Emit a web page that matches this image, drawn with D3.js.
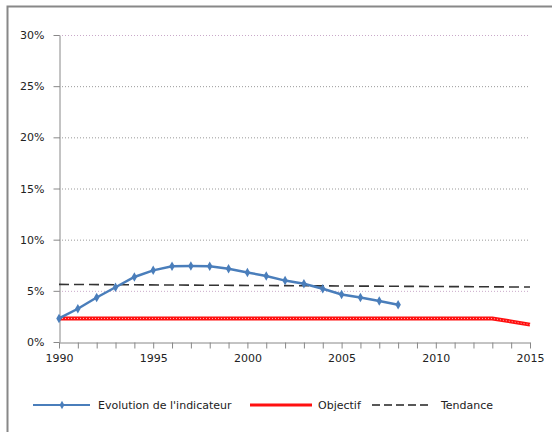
<!DOCTYPE html>
<html>
<head>
<meta charset="utf-8">
<script src="https://cdn.jsdelivr.net/npm/d3@7"></script>
<style>
  body { margin: 0; background: #fff; }
  text { font-family: "DejaVu Sans", sans-serif; fill: #222; }
</style>
</head>
<body>
<div id="graph"></div>
<script>
// indicator values (%)
const years = [1990, 1991, 1992, 1993, 1994, 1995, 1996, 1997, 1998, 1999,
  2000, 2001, 2002, 2003, 2004, 2005, 2006, 2007, 2008];
const indicateur = [2.3, 3.25, 4.35, 5.35, 6.35, 7.0, 7.4, 7.42, 7.4, 7.15,
  6.8, 6.45, 6.0, 5.7, 5.2, 4.65, 4.35, 4.0, 3.65];
const objectifYears = [1990, 2013, 2015];
const objectif = [2.3, 2.3, 1.7];
const tendanceYears = [1990, 2015];
const tendance = [5.63, 5.37];
const yTicks = [0, 5, 10, 15, 20, 25, 30];
const xTicks = [1990, 1995, 2000, 2005, 2010, 2015];
const legendLabels = ["Evolution de l'indicateur", "Objectif", "Tendance"];

const W = 552, H = 432;
const margin = { top: 35, right: 22, bottom: 90, left: 59 };
const width = W - margin.left - margin.right;
const height = H - margin.top - margin.bottom;

const svg = d3.select("#graph").append("svg")
  .attr("width", W)
  .attr("height", H);

// outer frame (left + top visible)
svg.append("path")
  .attr("d", "M7.5," + H + " V6.5 H" + W)
  .attr("fill", "none")
  .attr("stroke", "#888")
  .attr("stroke-width", 2);

const g = svg.append("g")
  .attr("transform", "translate(" + margin.left + "," + margin.top + ")");

const x = d3.scaleLinear().domain([1990, 2015]).range([0, width]);
const y = d3.scaleLinear().domain([0, 30]).range([height, 0]);

// gridlines
g.append("g")
  .selectAll("line")
  .data(yTicks.filter(d => d > 0))
  .enter().append("line")
  .attr("x1", 0)
  .attr("x2", width)
  .attr("y1", d => y(d) + 0.5)
  .attr("y2", d => y(d) + 0.5)
  .attr("stroke", d => (d === 30 || d === 5) ? "#c9a9c9" : "#999")
  .attr("stroke-width", 1)
  .attr("stroke-dasharray", "1,2");

// y axis
const yAxis = g.append("g")
  .attr("transform", "translate(0.5,0)")
  .call(d3.axisLeft(y).tickValues(yTicks).tickFormat(d => d + "%").tickSize(6).tickSizeOuter(0).tickPadding(9));
yAxis.selectAll("text").style("font-size", "11px").attr("fill", "#333");
yAxis.selectAll("line, path").attr("stroke", "#888");

// x axis with minor yearly ticks
const xAxis = g.append("g")
  .attr("transform", "translate(0," + (height + 0.5) + ")")
  .call(d3.axisBottom(x).tickValues(d3.range(1990, 2016)).tickFormat(d => xTicks.includes(d) ? d : "").tickSize(6).tickSizeOuter(0).tickPadding(6));
xAxis.selectAll("text").style("font-size", "11px").attr("fill", "#333");
xAxis.selectAll("line, path").attr("stroke", "#888");

// tendance
g.append("path")
  .datum(tendanceYears.map((d, i) => [d, tendance[i]]))
  .attr("fill", "none")
  .attr("stroke", "#333")
  .attr("stroke-width", 1.6)
  .attr("stroke-dasharray", "10,5")
  .attr("d", d3.line().x(d => x(d[0])).y(d => y(d[1])));

// objectif
const objLine = d3.line().x(d => x(d[0])).y(d => y(d[1]));
const objData = objectifYears.map((d, i) => [d, objectif[i]]);
g.append("path")
  .datum(objData)
  .attr("fill", "none")
  .attr("stroke", "#ff1010")
  .attr("stroke-width", 4)
  .attr("d", objLine);
g.append("path")
  .datum(objData)
  .attr("fill", "none")
  .attr("stroke", "#ffb0b0")
  .attr("stroke-width", 1)
  .attr("stroke-dasharray", "1,2")
  .attr("d", objLine);

// indicateur
const indData = years.map((d, i) => [d, indicateur[i]]);
g.append("path")
  .datum(indData)
  .attr("fill", "none")
  .attr("stroke", "#4a7ebb")
  .attr("stroke-width", 2.5)
  .attr("d", d3.line().x(d => x(d[0])).y(d => y(d[1])));

g.selectAll(".pt")
  .data(indData)
  .enter().append("path")
  .attr("class", "pt")
  .attr("transform", d => "translate(" + x(d[0]) + "," + y(d[1]) + ")")
  .attr("d", d3.symbol().type(d3.symbolDiamond).size(26))
  .attr("fill", "#4a7ebb");

// legend
const legY = 405;
const leg = svg.append("g").style("font-size", "11px");

leg.append("line").attr("x1", 33).attr("x2", 90).attr("y1", legY).attr("y2", legY)
  .attr("stroke", "#4a7ebb").attr("stroke-width", 2);
leg.append("path").attr("transform", "translate(62," + legY + ")")
  .attr("d", d3.symbol().type(d3.symbolDiamond).size(20)).attr("fill", "#4a7ebb");
leg.append("text").attr("x", 98).attr("y", legY + 4).text(legendLabels[0]);

leg.append("line").attr("x1", 250).attr("x2", 312).attr("y1", legY).attr("y2", legY)
  .attr("stroke", "#ff1010").attr("stroke-width", 3);
leg.append("text").attr("x", 318).attr("y", legY + 4).text(legendLabels[1]);

leg.append("line").attr("x1", 372).attr("x2", 432).attr("y1", legY).attr("y2", legY)
  .attr("stroke", "#222").attr("stroke-width", 1.5).attr("stroke-dasharray", "8,4");
leg.append("text").attr("x", 441).attr("y", legY + 4).text(legendLabels[2]);
</script>
</body>
</html>
